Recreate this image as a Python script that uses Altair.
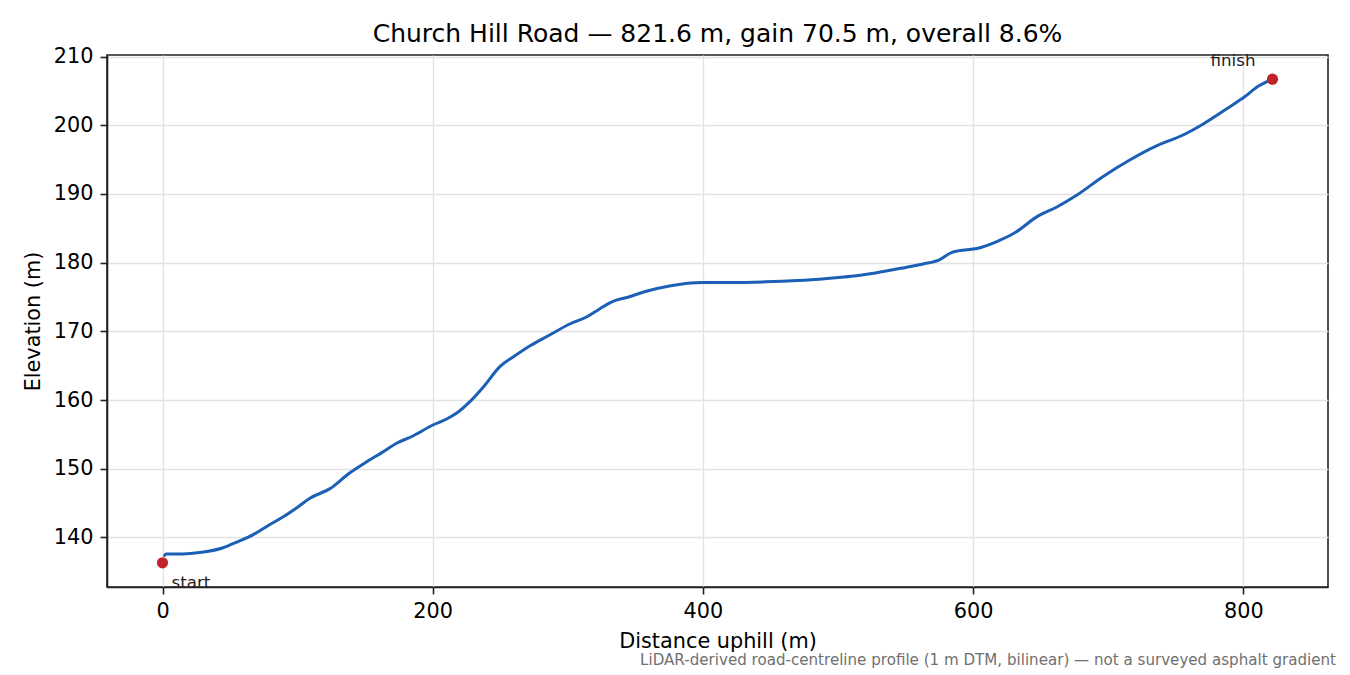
import altair as alt
import pandas as pd

# --- profile ---
distance = [1, 2.5, 15, 27.7, 44.9, 56, 67.2, 78, 89.4, 100, 109.1, 124, 138, 151.1,
            162, 173.3, 185.7, 200.5, 210, 217.8, 227.7, 237.5, 249.9, 259.8, 272.1,
            286.9, 301.7, 314.9, 321.5, 332.6, 345, 357.4, 375.2, 400, 420, 446.1,
            470, 492.2, 510, 527.7, 550, 563.1, 575, 584.4, 605.7, 618, 630.5, 648.2,
            662, 676.6, 696, 715.6, 736.9, 754.6, 768.8, 790.1, 800.7, 811.3, 821.6]
elevation = [137.2, 137.6, 137.6, 137.8, 138.5, 139.4, 140.4, 141.7, 143.0, 144.4,
             145.7, 147.1, 149.3, 151.0, 152.3, 153.7, 154.8, 156.4, 157.2, 158.1,
             159.8, 161.9, 164.9, 166.3, 167.9, 169.5, 171.1, 172.2, 173.0, 174.3,
             175.0, 175.8, 176.6, 177.1, 177.1, 177.2, 177.4, 177.7, 178.0, 178.5,
             179.3, 179.8, 180.4, 181.5, 182.2, 183.1, 184.3, 186.8, 188.1, 189.8,
             192.5, 194.9, 197.1, 198.5, 200.0, 202.7, 204.1, 205.7, 206.7]

end_labels = ['start', 'finish']
end_distance = [0, 821.6]
end_elevation = [136.3, 206.7]

x_ticks = [0, 200, 400, 600, 800]
y_ticks = [140, 150, 160, 170, 180, 190, 200, 210]

title_text = 'Church Hill Road \u2014 821.6 m, gain 70.5 m, overall 8.6%'
note_text = ('LiDAR-derived road-centreline profile (1 m DTM, bilinear) '
             '\u2014 not a surveyed asphalt gradient')

FONT = 'DejaVu Sans'
W, H = 1221, 532

df = pd.DataFrame({'distance': distance, 'elevation': elevation})
ends = pd.DataFrame({'label': end_labels, 'distance': end_distance,
                     'elevation': end_elevation})

x_enc = alt.X('distance:Q', title='Distance uphill (m)',
              scale=alt.Scale(domain=[-41.08, 862.68], nice=False, zero=False),
              axis=alt.Axis(values=x_ticks, format='d', titlePadding=11))
y_enc = alt.Y('elevation:Q', title='Elevation (m)',
              scale=alt.Scale(domain=[132.78, 210.22], nice=False, zero=False),
              axis=alt.Axis(values=y_ticks, format='d', titlePadding=10))

line = alt.Chart(df).mark_line(
    color='#1b5fb6', strokeWidth=3, interpolate='monotone'
).encode(x=x_enc, y=y_enc)

dots = alt.Chart(ends).mark_circle(color='#c1232b', size=125, opacity=1).encode(
    x='distance:Q', y='elevation:Q')

start_lbl = alt.Chart(ends[ends['label'] == 'start']).mark_text(
    align='left', baseline='alphabetic', dx=9, dy=25, font=FONT, fontSize=16.7,
    color='#222'
).encode(x='distance:Q', y='elevation:Q', text='label:N')

finish_lbl = alt.Chart(ends[ends['label'] == 'finish']).mark_text(
    align='right', baseline='alphabetic', dx=-17, dy=-13, font=FONT, fontSize=16.7,
    color='#222'
).encode(x='distance:Q', y='elevation:Q', text='label:N')

title = alt.Chart(pd.DataFrame({'t': [title_text]})).mark_text(
    align='center', baseline='alphabetic', font=FONT, fontSize=25, color='black'
).encode(x=alt.value(W / 2), y=alt.value(-13), text='t:N')

note = alt.Chart(pd.DataFrame({'t': [note_text]})).mark_text(
    align='right', baseline='alphabetic', font=FONT, fontSize=15.1, color='#707070'
).encode(x=alt.value(W + 8), y=alt.value(H + 78), text='t:N')

chart = (
    alt.layer(line, dots, start_lbl, finish_lbl, title, note)
    .properties(
        width=W, height=H,
        autosize=alt.AutoSizeParams(type='none'),
        padding={'left': 99, 'top': 47, 'right': 14, 'bottom': 85},
    )
    .configure_view(stroke='#222', strokeWidth=1.6)
    .configure_axis(
        labelFont=FONT, labelFontSize=20.8, labelColor='black',
        titleFont=FONT, titleFontSize=20.8, titleFontWeight='normal', titleColor='black',
        tickColor='#222', tickSize=7, tickWidth=1.6, labelPadding=7,
        domainColor='#222', domainWidth=1.6,
        gridColor='#e2e2e2', gridWidth=1.3,
    )
)

chart.save('out.html', embed_options={'renderer': 'svg', 'actions': False})
